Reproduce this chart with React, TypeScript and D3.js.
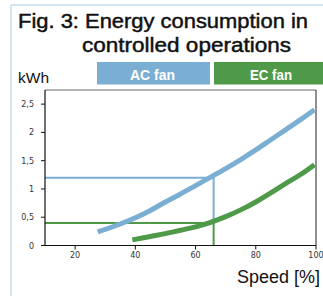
import React from "react";
import * as d3 from "d3";

const acSpeed = [27.5, 35, 40, 45, 50, 55, 60, 65, 70, 75, 80, 85, 90, 95, 99.5];
const acKwh = [0.24, 0.38, 0.49, 0.62, 0.77, 0.91, 1.06, 1.21, 1.36, 1.52, 1.69, 1.87, 2.05, 2.23, 2.4];
const ecSpeed = [39, 45, 50, 55, 60, 65, 70, 75, 80, 85, 90, 95, 99.5];
const ecKwh = [0.1, 0.16, 0.21, 0.27, 0.33, 0.41, 0.51, 0.63, 0.77, 0.93, 1.1, 1.26, 1.43];
const xTicks = [20, 40, 60, 80, 100];
const yTicks = [0, 0.5, 1, 1.5, 2, 2.5];
const yTickLabels = ["0", "0,5", "1", "1,5", "2", "2,5"];
const refSpeed = 66;
const acRef = 1.2;
const ecRef = 0.4;

const BLUE = "#7aaed2";
const GREEN = "#4e9a49";

export default function App() {
  const x = d3.scaleLinear().domain([10, 100]).range([45, 316]);
  const y = d3.scaleLinear().domain([0, 2.75]).range([245.5, 90]);
  const line = d3
    .line<[number, number]>()
    .x((d) => x(d[0]))
    .y((d) => y(d[1]))
    .curve(d3.curveMonotoneX);
  const acPts = acSpeed.map((s, i) => [s, acKwh[i]] as [number, number]);
  const ecPts = ecSpeed.map((s, i) => [s, ecKwh[i]] as [number, number]);
  const tickFont = "DejaVu Sans, sans-serif";
  const titleFont = "Liberation Sans, Arial, sans-serif";
  return (
    <svg
      width={323}
      height={296}
      style={{ position: "absolute", left: 0, top: 0 }}
    >
      <rect x={0} y={0} width={323} height={296} fill="#fff" />
      <line x1={11} y1={5} x2={323} y2={5} stroke="#c6dcea" strokeWidth={1.5} />
      <line x1={11} y1={5} x2={11} y2={296} stroke="#c6dcea" strokeWidth={1.5} />
      <text x={18} y={28} fontFamily={titleFont} fontSize={19.5} fill="#111" stroke="#111" strokeWidth={0.45} textLength={290} lengthAdjust="spacingAndGlyphs">
        Fig. 3: Energy consumption in
      </text>
      <text x={82} y={52} fontFamily={titleFont} fontSize={19.5} fill="#111" stroke="#111" strokeWidth={0.45} textLength={209} lengthAdjust="spacingAndGlyphs">
        controlled operations
      </text>
      <text x={18} y={83} fontFamily="Liberation Sans, Arial, sans-serif" fontSize={15.5} fill="#111">
        kWh
      </text>
      <rect x={97} y={62} width={113} height={22.5} fill={BLUE} />
      <rect x={214} y={62} width={109} height={22.5} fill={GREEN} />
      <text x={152.5} y={79.8} textAnchor="middle" fontFamily="Liberation Sans, Arial, sans-serif" fontWeight={700} fontSize={14.5} fill="#fff" textLength={45} lengthAdjust="spacingAndGlyphs">
        AC fan
      </text>
      <text x={271} y={79.8} textAnchor="middle" fontFamily="Liberation Sans, Arial, sans-serif" fontWeight={700} fontSize={14.5} fill="#fff" textLength={42} lengthAdjust="spacingAndGlyphs">
        EC fan
      </text>

      {/* plot frame */}
      <line x1={x(10)} y1={y(2.75)} x2={x(100)} y2={y(2.75)} stroke="#666" strokeWidth={1} />
      <line x1={x(100)} y1={y(2.75)} x2={x(100)} y2={y(0)} stroke="#222" strokeWidth={1} />

      {/* reference lines */}
      <polyline
        points={`${x(10)},${y(acRef)} ${x(refSpeed)},${y(acRef)} ${x(refSpeed)},${y(ecRef)}`}
        fill="none"
        stroke={BLUE}
        strokeWidth={2}
      />
      <polyline
        points={`${x(10)},${y(ecRef)} ${x(refSpeed)},${y(ecRef)} ${x(refSpeed)},${y(0)}`}
        fill="none"
        stroke={GREEN}
        strokeWidth={2}
      />

      <path d={line(acPts) || ""} fill="none" stroke={BLUE} strokeWidth={5} />
      <path d={line(ecPts) || ""} fill="none" stroke={GREEN} strokeWidth={5} />

      {/* axes */}
      <line x1={x(10)} y1={y(2.75)} x2={x(10)} y2={y(0)} stroke="#111" strokeWidth={1.2} />
      <line x1={x(10)} y1={y(0)} x2={x(100)} y2={y(0)} stroke="#111" strokeWidth={1.2} />
      {yTicks.map((t, i) => (
        <g key={"y" + t}>
          <line x1={x(10) - 4} x2={x(10)} y1={y(t)} y2={y(t)} stroke="#111" />
          <text x={34} y={y(t) + 3} textAnchor="end" fontFamily={tickFont} fontSize={8} fill="#333">
            {yTickLabels[i]}
          </text>
        </g>
      ))}
      {xTicks.map((t) => (
        <g key={"x" + t}>
          <line x1={x(t)} x2={x(t)} y1={y(0)} y2={y(0) + 4} stroke="#111" />
          <text x={x(t)} y={258} textAnchor="middle" fontFamily={tickFont} fontSize={8} fill="#333">
            {t}
          </text>
        </g>
      ))}
      <text x={237} y={283} fontFamily="Liberation Sans, Arial, sans-serif" fontSize={18} fill="#111">
        Speed [%]
      </text>
    </svg>
  );
}
